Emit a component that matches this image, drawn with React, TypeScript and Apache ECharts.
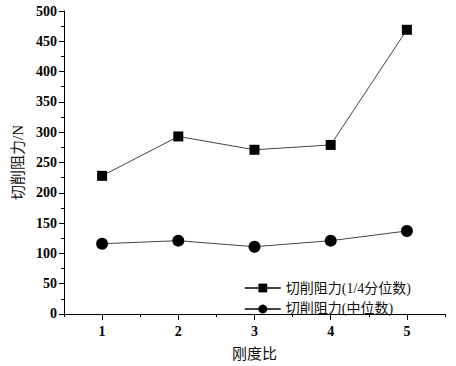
import React, { useEffect, useRef } from "react";
import * as echarts from "echarts";

const categories = [1, 2, 3, 4, 5];
const quartileName = "切削阻力(1/4分位数)";
const medianName = "切削阻力(中位数)";
const quartileValues = [228, 293, 271, 279, 469];
const medianValues = [116, 121, 111, 121, 137];
const xMajorTicks = [1, 2, 3, 4, 5];
const xMinorTicks = [0.5, 1.5, 2.5, 3.5, 4.5, 5.5];

const serif = "'Liberation Serif', 'Times New Roman', 'Noto Sans CJK SC', serif";

export default function App() {
  const ref = useRef<HTMLDivElement>(null);
  useEffect(() => {
    if (!ref.current) return;
    const chart = echarts.init(ref.current, undefined, { renderer: "svg" });
    const axisLine = { show: true, lineStyle: { color: "#000", width: 1 } };
    chart.setOption({
      animation: false,
      backgroundColor: "#fff",
      grid: { left: 64, right: 11, top: 11, bottom: 50 },
      legend: {
        orient: "vertical",
        right: 40,
        top: 276,
        itemWidth: 36,
        itemHeight: 11,
        itemGap: 7,
        textStyle: { fontFamily: serif, fontSize: 14, color: "#111" },
        data: [quartileName, medianName],
      },
      xAxis: [
        {
          type: "value",
          min: 0.5,
          max: 5.5,
          name: "刚度比",
          nameLocation: "middle",
          nameGap: 32,
          nameTextStyle: { fontFamily: serif, fontSize: 15, color: "#111" },
          axisLine,
          axisTick: { show: true, customValues: xMajorTicks, length: 6, inside: false, lineStyle: { color: "#000" } },
          axisLabel: { customValues: xMajorTicks, fontFamily: serif, fontWeight: "bold", fontSize: 14, color: "#000", margin: 11 },
          splitLine: { show: false },
        },
        {
          type: "value",
          min: 0.5,
          max: 5.5,
          position: "bottom",
          axisLine: { show: false },
          axisTick: { show: true, customValues: xMinorTicks, length: 3, lineStyle: { color: "#000" } },
          axisLabel: { show: false },
          splitLine: { show: false },
        },
      ],
      yAxis: {
        type: "value",
        min: 0,
        max: 500,
        interval: 50,
        name: "切削阻力/N",
        nameLocation: "middle",
        nameGap: 34,
        nameTextStyle: { fontFamily: serif, fontSize: 15, color: "#111" },
        axisLine,
        axisTick: { show: true, length: 5, lineStyle: { color: "#000" } },
        minorTick: { show: true, splitNumber: 2, length: 3, lineStyle: { color: "#000" } },
        axisLabel: { fontFamily: serif, fontWeight: "bold", fontSize: 14, color: "#000", margin: 7 },
        splitLine: { show: false },
      },
      series: [
        {
          name: quartileName,
          type: "line",
          data: categories.map((c, i) => [c, quartileValues[i]]),
          symbol: "rect",
          symbolSize: 10,
          itemStyle: { color: "#000" },
          lineStyle: { color: "#444", width: 1 },
        },
        {
          name: medianName,
          type: "line",
          data: categories.map((c, i) => [c, medianValues[i]]),
          symbol: "circle",
          symbolSize: 12,
          itemStyle: { color: "#000" },
          lineStyle: { color: "#444", width: 1 },
        },
      ],
    });
    return () => chart.dispose();
  }, []);
  return <div ref={ref} style={{ width: 456, height: 366, position: "absolute", left: 0, top: 0 }} />;
}
